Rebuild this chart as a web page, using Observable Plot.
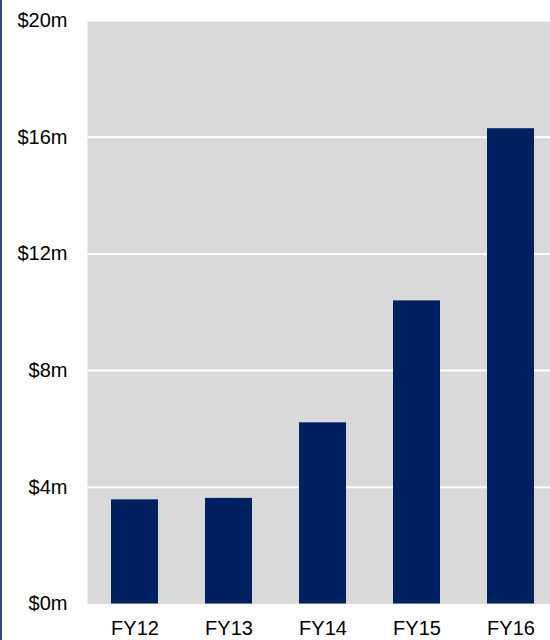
<!DOCTYPE html>
<html>
<head>
<meta charset="utf-8">
<script src="https://cdn.jsdelivr.net/npm/d3@7"></script>
<script src="https://cdn.jsdelivr.net/npm/@observablehq/plot@0.6"></script>
<style>
  html, body { margin: 0; padding: 0; background: #fff; overflow: hidden; }
  #edge { position: fixed; left: 0; top: 0; width: 2px; height: 640px; background: #2b4a8a; }
  #chart { position: absolute; left: 0; top: 0; }
</style>
</head>
<body>
<div id="chart"></div>
<div id="edge"></div>
<script>
const years = ["FY12", "FY13", "FY14", "FY15", "FY16"];
const revenue = [3.57, 3.62, 6.21, 10.39, 16.29];
const yTicks = [0, 4, 8, 12, 16, 20];
const gridTicks = [4, 8, 12, 16, 20];

const data = years.map((y, i) => ({year: y, value: revenue[i]}));

const chart = Plot.plot({
  width: 550,
  height: 640,
  marginLeft: 87,
  marginRight: 0,
  marginTop: 20,
  marginBottom: 36.5,
  style: {fontFamily: "'Liberation Sans', Arial, sans-serif", fontSize: "20px", color: "#000", background: "transparent"},
  x: {domain: years, range: [87, 558], paddingInner: 0.5, paddingOuter: 0.25, label: null},
  y: {domain: [0, 20], label: null},
  marks: [
    Plot.frame({fill: "#d9d9d9", stroke: null}),
    Plot.ruleY(gridTicks, {stroke: "#fff", strokeWidth: 2}),
    Plot.barY(data, {x: "year", y: "value", fill: "#002060"}),
    Plot.axisY({ticks: yTicks, tickSize: 0, tickPadding: 20, tickFormat: d => `$${d}m`, fontSize: 20, label: null}),
    Plot.axisX({tickSize: 0, tickPadding: 17, fontSize: 20, label: null})
  ]
});
document.getElementById("chart").appendChild(chart);
</script>
</body>
</html>
